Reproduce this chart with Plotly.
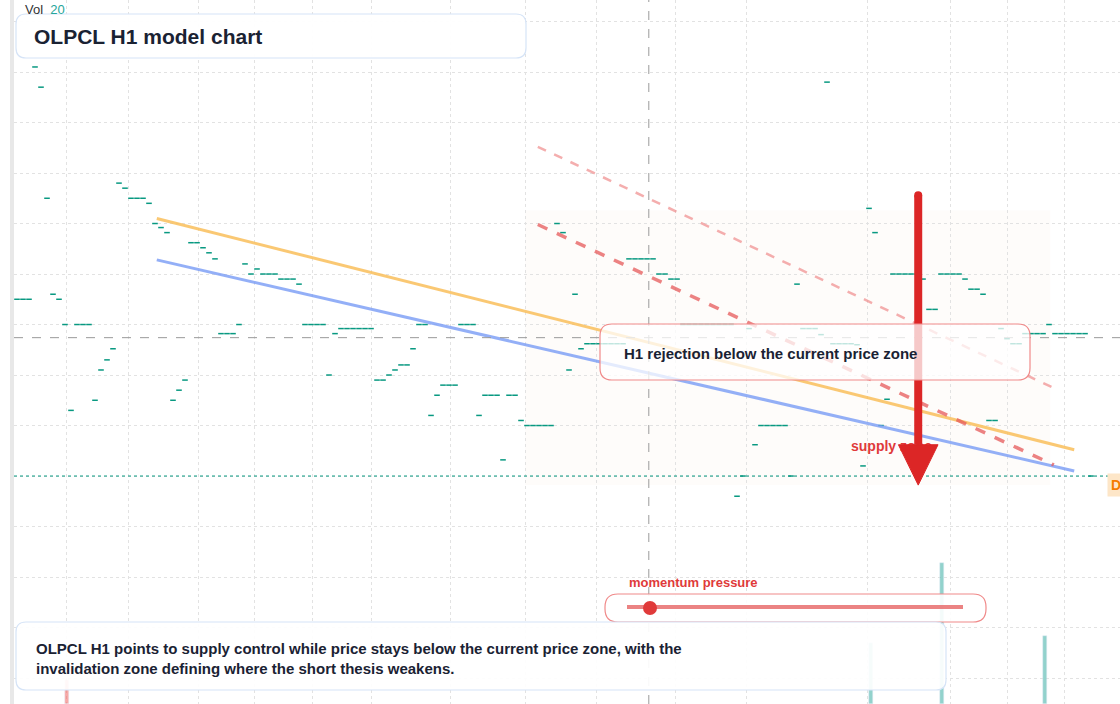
import plotly.graph_objects as go

# ---------------- data ----------------
closes = [11.95, 11.75, 11.75, 11.75, 14.05, 13.85, 12.75, 11.80, 11.75, 11.50,
          10.65, 11.50, 11.50, 11.50, 10.75, 11.05, 11.15, 11.26, 12.90, 12.85,
          12.75, 12.75, 12.75, 12.70, 12.50, 12.46, 12.41, 10.75, 10.85, 10.95,
          12.31, 12.31, 12.26, 12.21, 12.15, 11.41, 11.41, 11.41, 11.50, 12.10,
          12.00, 12.05, 12.00, 12.00, 12.00, 11.95, 11.95, 11.95, 11.90, 11.50,
          11.50, 11.50, 11.50, 11.00, 11.41, 11.46, 11.46, 11.46, 11.46, 11.46,
          11.46, 10.95, 10.95, 11.00, 11.05, 11.10, 11.10, 11.26, 11.50, 11.50,
          10.60, 10.80, 10.90, 10.90, 10.90, 11.50, 11.50, 11.50, 10.60, 10.80,
          10.80, 10.80, 10.16, 10.80, 10.80, 10.55, 10.50, 10.50, 10.50, 10.50,
          10.50, 12.50, 12.41, 11.05, 11.80, 11.26, 11.31, 11.31, 11.31, 11.31,
          11.31, 11.31, 11.31, 12.15, 12.15, 12.15, 12.15, 12.15, 12.00, 12.00,
          11.95, 11.95, 11.50, 11.50, 11.50, 11.50, 11.50, 11.50, 11.50, 11.50,
          11.50, 9.80, 10.00, 11.46, 10.31, 10.50, 10.50, 10.50, 10.50, 10.50,
          10.00, 11.90, 11.46, 11.46, 11.46, 11.40, 13.90, 11.31, 11.31, 11.31,
          11.31, 11.30, 10.10, 12.65, 12.41, 10.50, 10.76, 12.00, 12.00, 12.00,
          12.00, 12.00, 11.95, 11.65, 11.65, 12.00, 12.00, 12.00, 12.00, 11.95,
          11.85, 11.85, 11.80, 10.55, 10.55, 11.46, 11.36, 11.31, 11.31, 11.41,
          11.41, 11.41, 11.41, 11.50, 11.41, 11.41, 11.41, 11.41, 11.41, 11.41,
          10.00]
bar_index = list(range(len(closes)))

vol_bars_idx = [9.3, 143.3, 155.2, 172.3]
vol_bars_val = [3.4, 8.7, 20.0, 9.7]
vol_bars_col = ["rgba(239,83,80,0.5)", "rgba(38,166,154,0.5)", "rgba(38,166,154,0.5)", "rgba(38,166,154,0.5)"]

upper_trend = ([24.3, 177.2], [12.55, 10.26])
lower_trend = ([24.3, 177.2], [12.14, 10.05])
red_channel = ([87.8, 173.8], [12.49, 10.11])
red_channel_top = ([87.8, 173.5], [13.26, 10.88])
current_price = 11.37
last_close_level = 10.00
now_index = 106.3
arrow_idx = 151.2
arrow_from, arrow_to = 12.78, 9.91
zone_x = (85.7, 173.2)
zone_y = (9.91, 12.63)
vgrid = [9.3, 19.5, 31.3, 40.5, 50.3, 60.0, 73.2, 85.7, 97.5, 110.7, 122.5, 142.8, 156.5, 166.0, 175.5]

title = "OLPCL H1 model chart"
callout = "H1 rejection below the current price zone"
summary = ("OLPCL H1 points to supply control while price stays below the current price zone, with the<br>"
           "invalidation zone defining where the short thesis weakens.")

# ---------------- layout helpers ----------------
W, H, L = 1120, 704, 14
PW = W - L
def px(x): return (x - L) / PW
def py(y): return (H - y) / H

def rrect(x0, y0, x1, y1, r):
    def P(x, y): return f"{px(x):.5f},{py(y):.5f}"
    return (f"M {P(x0+r,y0)} L {P(x1-r,y0)} Q {P(x1,y0)} {P(x1,y0+r)} "
            f"L {P(x1,y1-r)} Q {P(x1,y1)} {P(x1-r,y1)} L {P(x0+r,y1)} "
            f"Q {P(x0,y1)} {P(x0,y1-r)} L {P(x0,y0+r)} Q {P(x0,y0)} {P(x0+r,y0)} Z")

FONT = "Liberation Sans, Arial, sans-serif"
TEAL = "#089981"

fig = go.Figure()
fig.add_trace(go.Bar(x=vol_bars_idx, y=vol_bars_val, marker_color=vol_bars_col, width=0.7,
                     yaxis="y2", showlegend=False, hoverinfo="skip"))
fig.add_trace(go.Scatter(x=bar_index, y=closes, mode="markers",
                         marker=dict(symbol="line-ew", size=4, line=dict(color=TEAL, width=1.5)),
                         showlegend=False))
for (xs, ys), col, w, dash in [
        (upper_trend, "rgba(249,190,90,0.85)", 3, "solid"),
        (lower_trend, "rgba(120,155,245,0.8)", 3, "solid"),
        (red_channel, "rgba(229,90,90,0.75)", 3.5, "dash"),
        (red_channel_top, "rgba(240,140,140,0.7)", 2.5, "dash")]:
    fig.add_trace(go.Scatter(x=xs, y=ys, mode="lines", line=dict(color=col, width=w, dash=dash),
                             showlegend=False, hoverinfo="skip"))
fig.add_trace(go.Scatter(x=[140.0], y=[10.28], mode="text", text=["<b>supply zone</b>"],
                         textposition="middle right",
                         textfont=dict(color="#e03a3a", size=14, family=FONT), showlegend=False))

shapes = [
    dict(type="rect", xref="paper", yref="paper", x0=-4/PW, x1=0, y0=0, y1=1,
         fillcolor="#e8e8e8", line_width=0, layer="above"),
    dict(type="rect", x0=zone_x[0], x1=zone_x[1], y0=zone_y[0], y1=zone_y[1],
         fillcolor="rgba(250,235,220,0.15)", line_width=0, layer="below"),
    dict(type="line", x0=0.5, x1=190, y0=current_price, y1=current_price,
         line=dict(color="#9a9a9a", width=1, dash="dash")),
    dict(type="line", x0=0.5, x1=190, y0=last_close_level, y1=last_close_level,
         line=dict(color=TEAL, width=1, dash="dot")),
    dict(type="line", x0=now_index, x1=now_index, yref="paper", y0=0, y1=1,
         line=dict(color="#9a9a9a", width=1, dash="dash")),
    dict(type="line", x0=arrow_idx, x1=arrow_idx, y0=arrow_from, y1=arrow_to + 0.4,
         line=dict(color="#dc2626", width=8), layer="above"),
    dict(type="circle", x0=arrow_idx-0.67, x1=arrow_idx+0.67, y0=arrow_from-0.04, y1=arrow_from+0.04,
         fillcolor="#dc2626", line_width=0, layer="above"),
    dict(type="path", path=f"M {arrow_idx-3.3},{arrow_to+0.4} L {arrow_idx+3.3},{arrow_to+0.4} L {arrow_idx},{arrow_to} Z",
         fillcolor="#dc2626", line=dict(color="#dc2626", width=1), layer="above"),
    dict(type="path", xref="paper", yref="paper", path=rrect(600, 324, 1030, 380, 12),
         fillcolor="rgba(255,255,255,0.75)", line=dict(color="#f08a8a", width=1.2), layer="above"),
    dict(type="path", xref="paper", yref="paper", path=rrect(16, 14, 526, 58, 10),
         fillcolor="rgba(255,255,255,0.95)", line=dict(color="#d6e4f7", width=1.2), layer="above"),
    dict(type="path", xref="paper", yref="paper", path=rrect(605, 594, 986, 622, 13),
         fillcolor="rgba(255,255,255,0.9)", line=dict(color="#f08a8a", width=1.2), layer="above"),
    dict(type="line", xref="paper", yref="paper", x0=px(627), x1=px(963), y0=py(607), y1=py(607),
         line=dict(color="rgba(230,100,100,0.8)", width=4), layer="above"),
    dict(type="circle", xref="paper", yref="paper", x0=px(643), x1=px(657), y0=py(601), y1=py(615),
         fillcolor="#e03a3a", line_width=0, layer="above"),
    dict(type="path", xref="paper", yref="paper", path=rrect(16, 622, 946, 690, 10),
         fillcolor="rgba(255,255,255,0.92)", line=dict(color="#d6e4f7", width=1.2), layer="above"),
]

ann = [
    dict(x=px(32), y=py(36), text=f"<b>{title}</b>", font=dict(size=21, color="#1a2233", family=FONT)),
    dict(x=px(23), y=py(9), text="Vol  <span style='color:#26a69a'>20</span>", font=dict(size=13, color="#333", family=FONT)),
    dict(x=px(622), y=py(353), text=f"<b>{callout}</b>", font=dict(size=15, color="#1a2233", family=FONT)),
    dict(x=px(627), y=py(582), text="<b>momentum pressure</b>", font=dict(size=13, color="#e03a3a", family=FONT)),
    dict(x=px(34), y=py(658), text=f"<b>{summary}</b>", align="left",
         font=dict(size=15, color="#1a2233", family=FONT)),
    dict(x=px(1107), y=py(485), text="<b>D</b>", bgcolor="#fde6c8", borderpad=3,
         font=dict(size=14, color="#f57c00", family=FONT)),
]
for a in ann:
    a.update(xref="paper", yref="paper", xanchor="left", yanchor="middle", showarrow=False)

fig.update_layout(
    width=W, height=H, margin=dict(l=L, r=0, t=0, b=0),
    paper_bgcolor="white", plot_bgcolor="white", bargap=0,
    xaxis=dict(range=[0.5, 184.83], tickvals=vgrid, showticklabels=False, showgrid=True,
               gridcolor="#e2e2e2", griddash="dot", zeroline=False, ticks=""),
    yaxis=dict(range=[7.743, 14.713], tick0=10, dtick=0.5, showticklabels=False, showgrid=True,
               gridcolor="#e2e2e2", griddash="dot", zeroline=False, ticks=""),
    yaxis2=dict(range=[0, 100], overlaying="y", showgrid=False, showticklabels=False, zeroline=False),
    shapes=shapes, annotations=ann, showlegend=False,
)
fig.write_html("out.html", config={"displayModeBar": False},
               post_script="document.body.style.margin='0';document.body.style.overflow='hidden';")
